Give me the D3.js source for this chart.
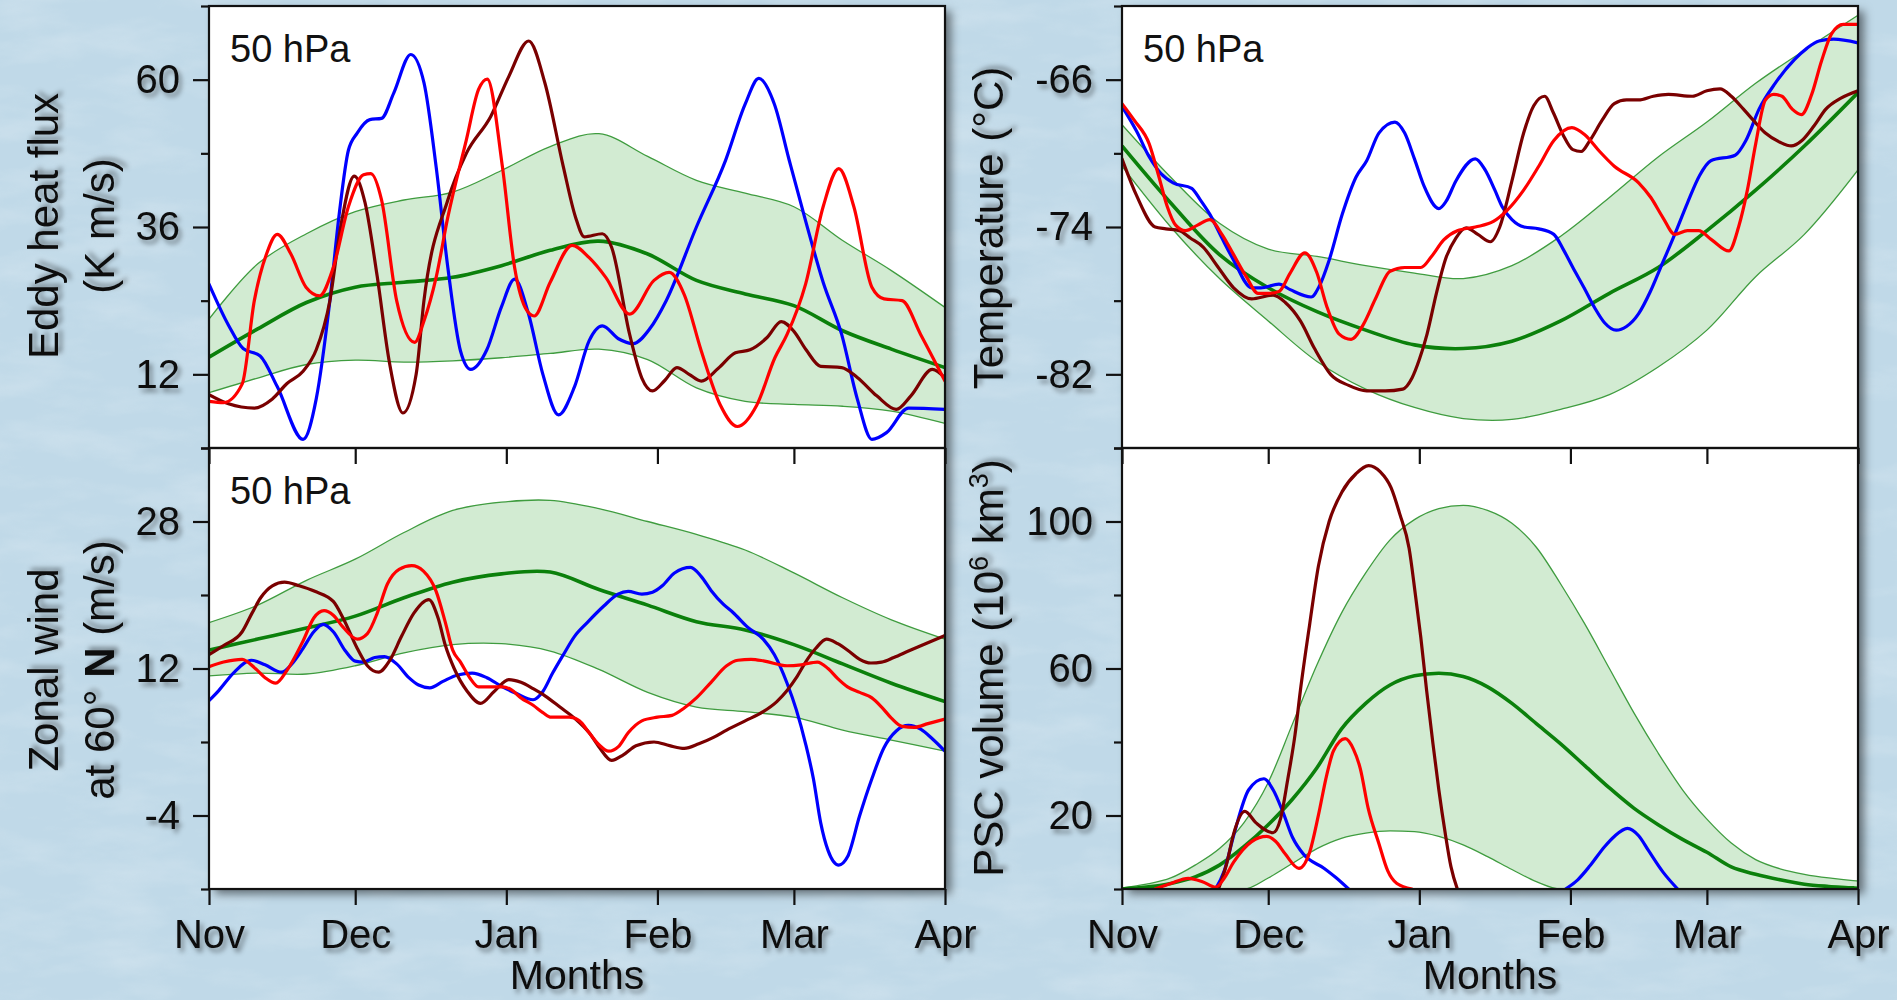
<!DOCTYPE html>
<html>
<head>
<meta charset="utf-8">
<script src="https://cdn.jsdelivr.net/npm/d3@7"></script>
<style>
  body { margin: 0; background: #c3dcea; overflow: hidden; }
  svg { display: block; font-family: 'Liberation Sans', Arial, sans-serif; }
</style>
</head>
<body>
<div id="chart"></div>
<script>
// month ticks, counted in days from Nov 1
let monthDays = [0, 30, 61, 92, 120, 151]
let monthNames = ['Nov', 'Dec', 'Jan', 'Feb', 'Mar', 'Apr']

// ---- eddy heat flux (K m/s) ----
let heatDomain = [0, 72]
let heatMajor = [12, 36, 60]
let heatMinor = [0, 24, 48, 72]
let heatDays = [0, 10, 20, 30, 40, 50, 60, 70, 80, 90, 100, 110, 120, 130, 140, 151]
let heatUpper = [21, 30, 34.9, 38.5, 40.4, 41.7, 45.2, 49.1, 51.2, 47.5, 43.6, 41.5, 39.3, 33.8, 28.9, 22.9]
let heatMean = [14.8, 19.4, 23.7, 26.2, 27, 27.8, 29.7, 32.2, 33.7, 31.6, 27.3, 25.1, 23.2, 19.1, 16.1, 13.1]
let heatLower = [9, 11.4, 13.6, 14.3, 14, 14.2, 14.7, 15.4, 16.1, 14.4, 9.8, 7.6, 7.1, 6.8, 6, 4]
let heatBlue = [[0, 26.7], [4, 20], [7, 16.2], [10.5, 15], [14, 10], [19.3, 1.4], [22, 8], [24.8, 24], [26.7, 38], [28.6, 48.5], [30.4, 51.3], [33, 53.5], [35.4, 53.7], [37.9, 57.8], [41.4, 64.1], [44.1, 59.5], [46.6, 45.8], [49, 29.4], [51.6, 15.8], [53.7, 12.8], [57, 16], [60, 23], [62.7, 27.5], [65.5, 22], [68.5, 12], [71.7, 5.4], [75, 10], [78, 17.5], [80.7, 19.9], [84, 17.8], [87, 17], [90.5, 19.5], [93.8, 24], [100, 36], [106, 46.9], [110, 56], [112.8, 60.2], [116, 56], [119, 47], [122.4, 37], [126, 27], [129.8, 18.5], [133, 8], [136, 1.4], [139, 2.5], [143.5, 6.5], [151, 6.3]]
let heatRed = [[0, 7.6], [3, 7.4], [6.8, 10.4], [9.3, 24], [11.8, 31.6], [14, 34.8], [16.8, 31.6], [19.9, 26.2], [22.7, 24.8], [25.5, 29.4], [28.6, 39.3], [31.7, 44.5], [33.2, 44.7], [35.4, 40.4], [38.5, 24], [42.2, 17.2], [44.1, 20.7], [46.6, 27.8], [49, 37.6], [52.8, 50.2], [55.3, 58.4], [57.1, 60.1], [60.2, 45.8], [62.7, 29.4], [65.2, 22.4], [66.7, 21.5], [70, 27], [74.5, 33], [78, 31], [81.4, 27.8], [86.3, 21.8], [91.3, 27.3], [94.4, 28.6], [97.5, 25], [101, 15.8], [104.9, 7], [108.4, 3.5], [112.4, 7], [116.1, 14.7], [118.6, 18.5], [122.4, 26.7], [126, 39.3], [129.2, 45.5], [132.3, 39.3], [136, 26.2], [138.5, 24.3], [142.2, 24], [146, 18.5], [151, 10.9]]
let heatDark = [[0, 8.7], [4, 7.2], [9.3, 6.5], [13, 8], [16, 10.5], [19.3, 12.5], [22, 16], [24.8, 24], [27, 36], [29.8, 44.3], [32, 40], [34.5, 28], [37, 14], [39.8, 5.7], [42.5, 12], [44.1, 24], [49, 40.4], [52.8, 48], [57.8, 54], [61.5, 60.5], [65.6, 66.3], [68.9, 59.5], [72.7, 45.8], [75.2, 37.6], [77, 34.4], [80.7, 34.9], [82.6, 32.7], [86.3, 18.5], [88.8, 11.4], [91, 9.3], [93.5, 11], [96, 13.1], [98.5, 12], [101, 10.9], [104.5, 13], [108, 15.5], [111, 16], [114.5, 18], [117.4, 20.6], [120, 19], [122.5, 16], [125.5, 13.3], [129.8, 13.1], [133, 11.5], [137, 8.5], [141, 6.3], [144, 8.5], [148.4, 12.8], [151, 11.4]]

// ---- temperature (°C) ----
let tempDomain = [-86, -62]
let tempMajor = [-82, -74, -66]
let tempMinor = [-86, -78, -70, -62]
let tempDays = [0, 10, 20, 30, 40, 50, 60, 70, 80, 90, 100, 110, 120, 130, 140, 151]
let tempUpper = [-68.45, -71.3, -73.8, -75.2, -75.6, -76.1, -76.5, -76.8, -76.1, -74.5, -72.4, -70.2, -68.3, -66.2, -64.4, -62.5]
let tempMean = [-69.6, -72.7, -75.5, -77.3, -78.6, -79.6, -80.4, -80.6, -80.2, -79.1, -77.6, -76.2, -74.2, -72, -69.6, -66.7]
let tempLower = [-70.7, -74, -76.8, -79.1, -81.3, -82.8, -83.8, -84.4, -84.45, -83.9, -83.1, -81.6, -79.6, -76.7, -74.4, -70.9]
let tempBlue = [[0, -67.45], [3, -68.8], [5.6, -70.2], [8, -71.1], [10.5, -71.6], [14.3, -71.9], [16, -72.5], [18, -73.3], [20.5, -74.6], [22.9, -75.8], [26.6, -77.3], [28.5, -77.3], [32.2, -77.1], [34.5, -77.4], [38.8, -77.8], [40.5, -77.2], [42.5, -75.8], [45.2, -73.3], [48, -71.3], [50.2, -70.4], [52.7, -68.9], [56, -68.3], [58, -68.9], [60, -70.3], [62, -71.8], [65, -73], [66.5, -72.6], [68.5, -71.5], [72.5, -70.3], [74.5, -70.9], [76.5, -72], [78, -72.9], [80, -73.6], [82.5, -74], [85.5, -74.1], [88.6, -74.4], [90.5, -75.2], [92.5, -76.2], [94.8, -77.3], [97, -78.4], [99, -79.2], [101.4, -79.6], [103.5, -79.4], [106, -78.7], [108.4, -77.5], [110.5, -76.2], [113.4, -74.4], [116, -72.7], [118.5, -71.2], [120.8, -70.4], [125.8, -70.1], [128, -69.3], [130.7, -67.6], [134, -66.2], [138, -64.9], [140.5, -64.3], [143, -63.9], [146, -63.8], [151, -64]]
let tempRed = [[0, -67.3], [2.5, -68.2], [5.6, -69.5], [7.5, -71.2], [9.3, -72.9], [11, -73.9], [13, -74.2], [15.5, -73.9], [18, -73.6], [20.5, -74.4], [22.9, -75.5], [25.5, -76.7], [27.9, -77.6], [30, -77.6], [32.2, -77.5], [34.5, -76.5], [37.5, -75.4], [40, -76.5], [42, -78.3], [44.5, -79.8], [47, -80.1], [49.5, -79.3], [52, -77.9], [55, -76.4], [58, -76.2], [61.3, -76.2], [63.5, -75.6], [66, -74.7], [68.8, -74.2], [72.5, -74], [76.2, -73.7], [79, -73.1], [82.4, -72], [85.5, -70.7], [88.6, -69.3], [92.3, -68.6], [95, -69], [98, -69.9], [101, -70.7], [106, -71.6], [108.5, -72.4], [111, -73.5], [113.4, -74.4], [116, -74.2], [118.3, -74.2], [121, -74.7], [124.5, -75.3], [126.5, -74], [128.3, -72], [130, -69.5], [132, -67.1], [133.7, -66.8], [135.4, -66.9], [137.5, -67.6], [139.4, -67.9], [141.5, -66.8], [143.5, -65], [145.6, -63.5], [148, -63], [151, -63]]
let tempDark = [[0, -70.3], [3, -72.3], [6.8, -74], [9, -74.1], [11.8, -74.2], [14, -74.6], [16.7, -75.1], [19.5, -76.1], [22.9, -77.3], [26.6, -77.9], [31, -77.7], [33.5, -78.1], [36.6, -79.1], [39.5, -80.6], [42.8, -82], [46.5, -82.6], [50.2, -82.9], [54, -82.9], [57.6, -82.8], [59.5, -82.2], [61, -81.2], [62.6, -79.8], [64.5, -77.6], [66.3, -75.8], [68.5, -74.6], [70.6, -74.05], [73, -74.4], [75.6, -74.8], [77.5, -74], [80, -71.5], [82.4, -68.9], [84.5, -67.4], [86.7, -66.9], [88.5, -67.8], [90.5, -69], [92.5, -69.8], [94.2, -69.9], [96, -69.3], [98.5, -68.2], [101, -67.3], [103.5, -67.1], [106, -67.1], [109, -66.9], [112.1, -66.8], [117, -66.9], [120, -66.6], [122.7, -66.5], [125, -66.9], [127.5, -67.6], [129.5, -68.2], [132, -68.9], [135, -69.4], [137.3, -69.6], [139.5, -69.3], [142, -68.5], [144.4, -67.6], [147.5, -67], [151, -66.6]]

// ---- zonal wind at 60N (m/s) ----
let windDomain = [-12, 36]
let windMajor = [-4, 12, 28]
let windMinor = [-12, 4, 20, 36]
let windDays = [0, 10, 20, 30, 40, 50, 60, 70, 80, 90, 100, 110, 120, 130, 140, 151]
let windUpper = [17, 18.9, 21.6, 23.9, 26.8, 29.2, 30.1, 30.3, 29.4, 28, 26.6, 24.9, 22.4, 19.7, 17.3, 15.2]
let windMean = [14, 15.2, 16.4, 17.7, 19.7, 21.4, 22.3, 22.5, 20.6, 18.9, 17.1, 16.2, 14.6, 12.5, 10.4, 8.4]
let windLower = [11.2, 11.5, 11.4, 12.3, 13.7, 14.6, 14.7, 13.9, 11.9, 9.4, 7.8, 7.3, 6.7, 5.3, 4.2, 3]
let windBlue = [[0, 8.5], [2, 9.6], [5, 11.5], [8.7, 12.9], [11.5, 12.4], [14.9, 11.6], [17, 12.5], [19.3, 14.2], [21.5, 16], [23.4, 16.8], [25.5, 16], [28, 13.9], [30, 12.8], [31.7, 12.7], [34, 13.2], [36, 13.3], [38.5, 12.5], [41, 11], [43, 10.2], [45.3, 9.9], [48, 10.6], [51, 11.3], [54, 11.5], [57, 11], [60.2, 10], [63, 9.3], [66.5, 8.6], [68.5, 9.5], [70.5, 11.5], [72.7, 13.5], [75, 15.5], [77.6, 17], [81, 18.8], [83.9, 20.1], [86, 20.4], [88.8, 20.1], [91, 20.3], [93, 21], [95.5, 22.4], [98.8, 23], [101, 22], [103, 20.5], [105.5, 19], [107.5, 18.1], [110.5, 16.5], [113.7, 15.2], [116, 13.5], [118.6, 10.4], [120.5, 7.5], [122.4, 3.8], [124, 0], [125.5, -4.8], [127, -7.8], [129.2, -9.4], [131, -8.5], [133.5, -4], [136, 0], [138.5, 3.4], [141, 5.2], [143.5, 5.8], [146, 5.4], [148.5, 4.3], [151, 3]]
let windRed = [[0, 12.2], [3, 12.7], [6.8, 13], [9.5, 12], [11.5, 11], [13.7, 10.4], [16, 11.8], [19.3, 15], [21.5, 17.5], [23.6, 18.3], [25.5, 17.8], [27.5, 16.5], [30.4, 15.2], [32.5, 15.8], [34.5, 18], [36.6, 21.2], [39, 22.8], [41.6, 23.2], [44, 22.6], [46.6, 20.4], [48.5, 17], [50, 14], [51.6, 12.7], [53.5, 11], [55.3, 10], [60.2, 10], [62, 9.7], [64, 8.8], [66.5, 8], [68.5, 7.2], [70.2, 6.7], [73.9, 6.7], [76, 6.3], [78, 5], [80, 3.7], [82, 3], [84, 3.5], [86, 5], [88.8, 6.3], [92, 6.7], [95, 6.9], [97.5, 7.7], [100, 8.8], [103, 10.5], [106.2, 12.3], [108.5, 12.9], [111.2, 13], [114, 12.8], [118.6, 12.3], [121.5, 12.4], [124.8, 12.7], [127, 12], [129, 10.9], [131, 10], [133.5, 9.4], [136, 8.8], [138, 7.8], [140, 6.6], [142.2, 5.7], [144.7, 5.6], [147.5, 6], [151, 6.5]]
let windDark = [[0, 13.5], [3, 14.5], [6.8, 16], [8.8, 18], [10.6, 19.7], [13, 21], [15.5, 21.4], [18.5, 21], [21.7, 20.4], [25.5, 19.3], [27.5, 17.5], [30.4, 14.2], [32.5, 12.3], [34.8, 11.6], [37, 12.8], [39.5, 15.5], [42, 18], [45.1, 19.5], [47, 17.5], [48.5, 14.5], [50.3, 12], [53, 9.5], [55.7, 8.2], [58.5, 9.5], [61.5, 10.8], [64, 10.5], [66.5, 9.8], [69, 9], [72, 7.8], [75.2, 6.5], [78, 5], [80.1, 3.4], [82.6, 2], [85, 2.6], [87.6, 3.6], [91.3, 4], [94.5, 3.6], [97.5, 3.3], [100.5, 3.8], [103.5, 4.5], [106.2, 5.3], [110, 6.3], [113.7, 7.3], [116.5, 8.4], [118.6, 9.6], [120.5, 11], [122.4, 12.7], [124.5, 14.2], [126.7, 15.2], [129, 14.7], [131.5, 13.8], [133.5, 13], [135.8, 12.6], [138, 12.7], [140.5, 13.2], [143.5, 13.9], [147, 14.7], [151, 15.6]]

// ---- PSC volume (10^6 km^3) ----
let pscDomain = [0, 120]
let pscMajor = [20, 60, 100]
let pscMinor = [0, 40, 80, 120]
let pscDays = [0, 5, 10, 15, 20, 25, 30, 35, 40, 45, 50, 55, 60, 65, 70, 75, 80, 85, 90, 95, 100, 105, 110, 115, 120, 125, 130, 135, 140, 145, 150, 151]
let pscUpper = [0.3, 1.3, 3, 6.5, 11, 18, 29, 45, 61, 75, 86, 95, 100.5, 103.5, 104.4, 103, 99.5, 93, 83, 72, 60, 48, 37, 27, 19, 12.5, 8, 5.5, 4, 3, 2.3, 2.2]
let pscMean = [0, 0.5, 1.5, 3.3, 6.5, 11.5, 17.5, 24.5, 33, 43.5, 50.5, 55.5, 58, 58.7, 57.8, 55, 50.5, 45, 39.5, 33.5, 27.5, 22, 17.5, 13.5, 10, 6, 4, 2.5, 1.3, 0.7, 0.3, 0.2]
let pscLower = [0, 0, 0, 0, 0, 0, 3, 7, 11, 13.8, 15.2, 15.8, 15.6, 14.3, 12, 8.8, 5.3, 2, 0, 0, 0, 0, 0, 0, 0, 0, 0, 0, 0, 0, 0, 0]
let pscBlue = [[19.2, 0], [21, 5], [23, 15], [26, 27], [29.1, 30], [31, 27], [33, 21], [35, 14], [37.2, 9.5], [41.5, 5.6], [44, 3], [46.5, 0], [70, null], [91, 0], [93.5, 2.5], [96, 6.3], [99, 11.5], [101, 14.3], [103.7, 16.5], [106, 14.5], [108, 10.5], [111, 4.6], [114, 0]]
let pscRed = [[6.8, 0], [10, 1.5], [13.6, 2.9], [16.5, 2], [19.2, 0.5], [21, 3], [22.9, 7.3], [26.6, 12.9], [29.7, 14.3], [31.5, 13], [33.5, 9.5], [36.3, 5.6], [38.5, 10], [40.3, 20.1], [42, 31], [43.4, 37.6], [45.8, 40.9], [47.5, 38], [48.9, 32.7], [50.5, 22], [52.7, 12.4], [54.5, 5], [56.4, 1.5], [59.5, 0]]
let pscDark = [[19.8, 0], [21.5, 7], [22.9, 15], [25.2, 21.1], [27.5, 18], [31, 15.3], [32.5, 19], [34, 29.8], [35.5, 42], [36.6, 54], [38.5, 72], [40.3, 87.9], [42.5, 100], [45.2, 108.2], [48, 113], [50.6, 115.2], [53, 113.5], [55.2, 109.2], [57, 102], [58.9, 92.7], [60.2, 80], [61.3, 68.5], [62.5, 54], [63.8, 39.5], [65, 27], [66.3, 15.3], [67.5, 6], [68.8, 0]]

let width = 1897
let height = 1000
let colX = [209, 1122]
let rowY = [6, 448]
let panelW = 736
let panelH = [442, 441]

let panels = [
  { col: 0, row: 0, domain: heatDomain, major: heatMajor, minor: heatMinor, days: heatDays, upper: heatUpper, mean: heatMean, lower: heatLower, lines: [heatBlue, heatDark, heatRed], tag: true },
  { col: 1, row: 0, domain: tempDomain, major: tempMajor, minor: tempMinor, days: tempDays, upper: tempUpper, mean: tempMean, lower: tempLower, lines: [tempBlue, tempDark, tempRed], tag: true },
  { col: 0, row: 1, domain: windDomain, major: windMajor, minor: windMinor, days: windDays, upper: windUpper, mean: windMean, lower: windLower, lines: [windBlue, windDark, windRed], tag: true },
  { col: 1, row: 1, domain: pscDomain, major: pscMajor, minor: pscMinor, days: pscDays, upper: pscUpper, mean: pscMean, lower: pscLower, lines: [pscBlue, pscDark, pscRed], tag: false }
]
let lineColors = ['#0000ff', '#7a0000', '#ff0000']

let svg = d3.select('#chart')
  .append('svg')
  .attr('width', width)
  .attr('height', height)

let defs = svg.append('defs')

// soft paper-like mottling for the backdrop
let paper = defs.append('filter').attr('id', 'paper')
paper.append('feTurbulence')
  .attr('type', 'fractalNoise')
  .attr('baseFrequency', '0.012 0.035')
  .attr('numOctaves', 4)
  .attr('seed', 11)
paper.append('feColorMatrix')
  .attr('type', 'matrix')
  .attr('values', '0 0 0 0 1  0 0 0 0 1  0 0 0 0 1  1.2 0 0 0 -0.5')

let textShadow = defs.append('filter').attr('id', 'tshadow')
  .attr('x', '-20%').attr('y', '-30%').attr('width', '150%').attr('height', '170%')
textShadow.append('feDropShadow')
  .attr('dx', 3).attr('dy', 4).attr('stdDeviation', 2.4)
  .attr('flood-color', '#000').attr('flood-opacity', 0.4)

let boxShadow = defs.append('filter').attr('id', 'bshadow')
  .attr('x', '-5%').attr('y', '-5%').attr('width', '115%').attr('height', '115%')
boxShadow.append('feDropShadow')
  .attr('dx', 6).attr('dy', 5).attr('stdDeviation', 5)
  .attr('flood-color', '#000').attr('flood-opacity', 0.5)

// background
svg.append('rect').attr('width', width).attr('height', height).attr('fill', '#c0d9e8')
svg.append('rect').attr('width', width).attr('height', height)
  .attr('filter', 'url(#paper)').attr('opacity', 0.3)

// white columns with their drop shadow
colX.forEach(cx => {
  svg.append('rect')
    .attr('x', cx).attr('y', rowY[0])
    .attr('width', panelW).attr('height', rowY[1] + panelH[1] - rowY[0])
    .attr('fill', 'white')
    .attr('filter', 'url(#bshadow)')
})

let tickFont = 40

panels.forEach((p, pi) => {
  let x0 = colX[p.col]
  let y0 = rowY[p.row]
  let h = panelH[p.row]

  let x = d3.scaleLinear().domain([0, 151]).range([x0, x0 + panelW])
  let y = d3.scaleLinear().domain(p.domain).range([y0 + h, y0])

  let g = svg.append('g')

  let clipId = 'clip' + pi
  defs.append('clipPath').attr('id', clipId)
    .append('rect').attr('x', x0).attr('y', y0).attr('width', panelW).attr('height', h)

  let plot = g.append('g').attr('clip-path', `url(#${clipId})`)

  let band = p.days.map((d, i) => ({ day: d, hi: p.upper[i], lo: p.lower[i], mean: p.mean[i] }))
  let smooth = p.row === 1 && p.col === 1 ? d3.curveMonotoneX : d3.curveCatmullRom

  let area = d3.area()
    .x(d => x(d.day))
    .y0(d => y(d.lo))
    .y1(d => y(d.hi))
    .curve(smooth)

  plot.append('path')
    .datum(band)
    .attr('d', area)
    .attr('fill', '#d2ebd2')

  let edge = key => d3.line()
    .x(d => x(d.day))
    .y(d => y(d[key]))
    .curve(smooth)

  ;['hi', 'lo'].forEach(k => {
    plot.append('path')
      .datum(band)
      .attr('d', edge(k))
      .attr('fill', 'none')
      .attr('stroke', '#3f9c3f')
      .attr('stroke-width', 1.3)
  })

  plot.append('path')
    .datum(band)
    .attr('d', edge('mean'))
    .attr('fill', 'none')
    .attr('stroke', '#0b800b')
    .attr('stroke-width', 3.6)

  let line = d3.line()
    .defined(d => d[1] != null)
    .x(d => x(d[0]))
    .y(d => y(d[1]))
    .curve(d3.curveMonotoneX)

  p.lines.forEach((s, i) => {
    plot.append('path')
      .datum(s)
      .attr('d', line)
      .attr('fill', 'none')
      .attr('stroke', lineColors[i])
      .attr('stroke-width', 3.2)
      .attr('stroke-linejoin', 'round')
      .attr('stroke-linecap', 'round')
  })

  // frame
  g.append('rect')
    .attr('x', x0).attr('y', y0)
    .attr('width', panelW).attr('height', h)
    .attr('fill', 'none')
    .attr('stroke', '#111')
    .attr('stroke-width', 2.2)

  // y axis: labelled major ticks + short minor ticks
  let yAxis = g.append('g')
    .attr('transform', `translate(${x0},0)`)
    .call(d3.axisLeft(y).tickValues(p.major).tickSize(16).tickPadding(13).tickFormat(d => String(d)))
  yAxis.append('g')
    .call(d3.axisLeft(y).tickValues(p.minor).tickSize(8).tickFormat(''))

  // x axis
  g.append('g')
    .attr('transform', `translate(0,${y0 + h})`)
    .call(d3.axisBottom(x)
      .tickValues(monthDays)
      .tickSize(16)
      .tickPadding(15)
      .tickFormat((d, i) => p.row === 1 ? monthNames[i] : ''))

  g.selectAll('.domain').remove()
  g.selectAll('.tick line').attr('stroke', '#111').attr('stroke-width', 2.2)
  g.selectAll('.tick text')
    .attr('font-size', tickFont)
    .attr('font-family', "'Liberation Sans', Arial, sans-serif")
    .attr('fill', '#111')
    .attr('filter', 'url(#tshadow)')

  if (p.tag) {
    g.append('text')
      .attr('x', x0 + 21)
      .attr('y', y0 + 56)
      .attr('font-size', 38)
      .attr('fill', '#111')
      .text('50 hPa')
  }

  if (p.row === 1) {
    g.append('text')
      .attr('x', x0 + panelW / 2)
      .attr('y', 989)
      .attr('text-anchor', 'middle')
      .attr('font-size', 41)
      .attr('fill', '#111')
      .attr('filter', 'url(#tshadow)')
      .text('Months')
  }
})

// y axis titles (rotated)
function yTitle(px, py) {
  return svg.append('text')
    .attr('transform', `translate(${px},${py}) rotate(-90)`)
    .attr('text-anchor', 'middle')
    .attr('font-size', 42)
    .attr('fill', '#111')
    .attr('filter', 'url(#tshadow)')
}

yTitle(58, 226).text('Eddy heat flux')
yTitle(114, 226).text('(K m/s)')

yTitle(58, 670).text('Zonal wind')
let wind2 = yTitle(114, 670)
wind2.append('tspan').text('at 60° ')
wind2.append('tspan').attr('font-weight', 'bold').text('N')
wind2.append('tspan').text(' (m/s)')

yTitle(1003, 228).text('Temperature (°C)')

let psc = yTitle(1003, 668)
psc.append('tspan').text('PSC volume (10')
psc.append('tspan').attr('dy', -15).attr('font-size', 27).text('6')
psc.append('tspan').attr('dy', 15).text(' km')
psc.append('tspan').attr('dy', -15).attr('font-size', 27).text('3')
psc.append('tspan').attr('dy', 15).text(')')
</script>
</body>
</html>
